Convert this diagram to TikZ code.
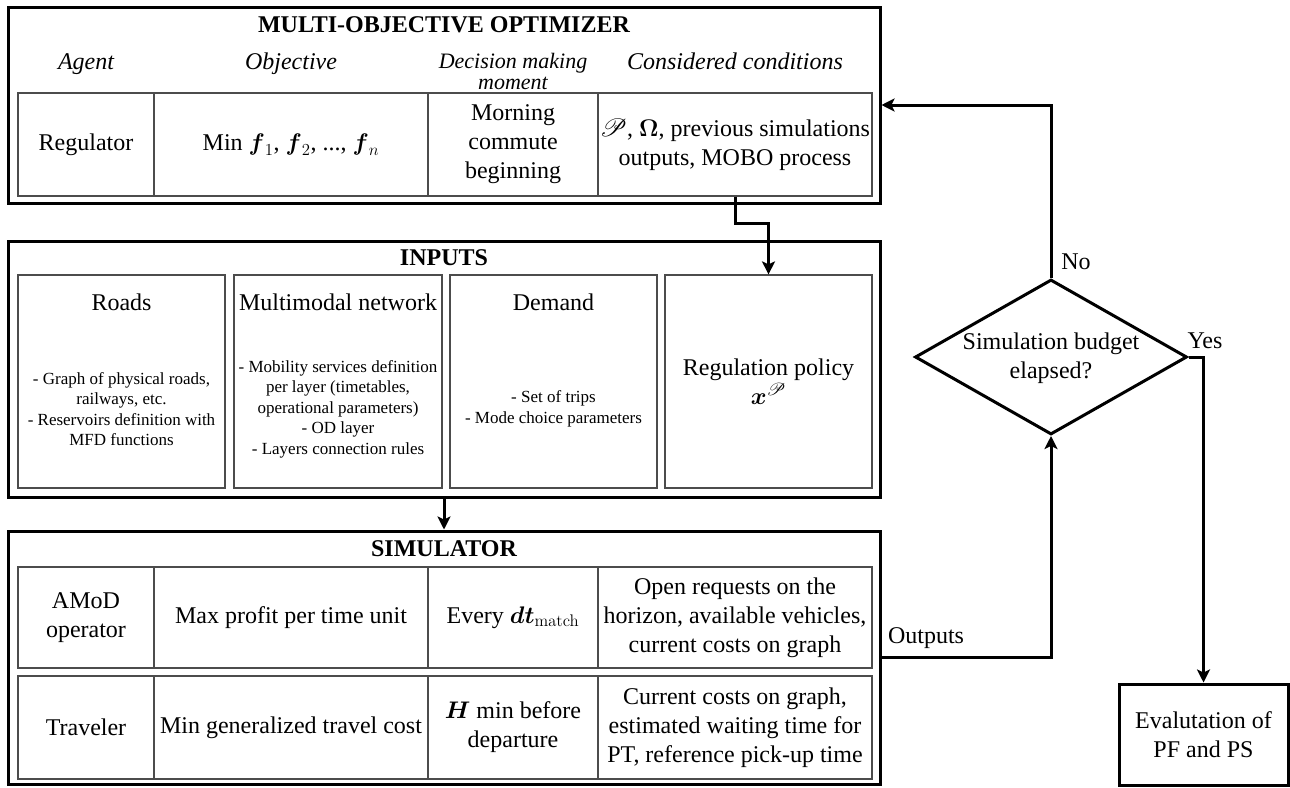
\IfFileExists{fix-cm.sty}{\RequirePackage{fix-cm}}{}
\documentclass[tikz,border=0pt]{standalone}
\usepackage{amsmath}
\usepackage{amsbsy}
\IfFileExists{mathrsfs.sty}{\usepackage{mathrsfs}}{\providecommand\mathscr{\mathcal}}
\usepackage[no-math]{fontspec}
\setmainfont{Liberation Serif}
\usetikzlibrary{arrows.meta,shapes.geometric,calc}
\begin{document}
\begin{tikzpicture}[x=1pt,y=-1pt,
  big/.style={font=\fontsize{24}{29}\selectfont},
  small/.style={font=\fontsize{17}{20.5}\selectfont},
  outer/.style={draw, line width=3pt, inner sep=0pt},
  cell/.style={draw=black!70, line width=1.2pt, inner sep=0pt, align=center, font=\fontsize{24}{29}\selectfont},
  arr/.style={line width=3pt, -{Stealth[length=13pt,width=13pt,inset=3pt]}},
  titletext/.style={font=\fontsize{24}{29}\selectfont\bfseries},
  head/.style={font=\fontsize{24}{29}\selectfont\itshape, align=center, text height=17pt, text depth=6pt},
]
\useasboundingbox (0,0) rectangle (1290,787);

% outer boxes
\node[outer, minimum width=872pt, minimum height=196pt] (moo) at (444,105) {};
\node[outer, minimum width=872pt, minimum height=256pt] (inp) at (444,369) {};
\node[outer, minimum width=872pt, minimum height=253pt] (sim) at (444,657.5) {};

% titles
\node[titletext] (mooT) at (444,25) {MULTI-OBJECTIVE OPTIMIZER};
\node[titletext] (inpT) at (444,258) {INPUTS};
\node[titletext] (simT) at (444,549) {SIMULATOR};

% headers
\node[head] (hAgent) at (86,64) {Agent};
\node[head] (hObj) at (291,64) {Objective};
\node[font=\fontsize{22}{21}\selectfont\itshape, align=center] (hDec) at (513,71) {Decision making\\moment};
\node[head] (hCond) at (735,64) {Considered conditions};

% optimizer row
\node[cell, minimum width=136pt, minimum height=103pt] (mAgent) at (86,144.5) {Regulator};
\node[cell, minimum width=274pt, minimum height=103pt] (mObj) at (291,144.5) {Min $\boldsymbol{f}_1$, $\boldsymbol{f}_2$, ..., $\boldsymbol{f}_n$};
\node[cell, minimum width=170pt, minimum height=103pt] (mDec) at (513,144.5) {Morning\\commute\\beginning};
\node[cell, minimum width=274pt, minimum height=103pt] (mcond) at (735,144.5) {$\mathscr{P}$, $\boldsymbol{\Omega}$, previous simulations\\outputs, MOBO process};

% inputs
\node[cell, minimum width=207pt, minimum height=213pt] (roads) at (121.5,381.5) {};
\node[cell, minimum width=208pt, minimum height=213pt] (multi) at (338,381.5) {};
\node[cell, minimum width=207pt, minimum height=213pt] (demand) at (553.5,381.5) {};
\node[cell, minimum width=207pt, minimum height=213pt] (reg) at (768.5,381.5) {Regulation policy\\$\boldsymbol{x}^{\mathscr{P}}$};

\node[big] (roadsT) at (121.5,302) {Roads};
\node[small, align=center] (roadsB) at (121.5,409) {- Graph of physical roads,\\railways, etc.\\- Reservoirs definition with\\MFD functions};
\node[big] (multiT) at (338,302) {Multimodal network};
\node[small, align=center] (multiB) at (338,409) {- Mobility services definition\\per layer (timetables,\\operational parameters)\\- OD layer\\- Layers connection rules};
\node[big] (demandT) at (553.5,302) {Demand};
\node[small, align=center] (demandB) at (553.5,409) {- Set of trips\\- Mode choice parameters};

% simulator rows
\node[cell, minimum width=136pt, minimum height=101pt] (aAgent) at (86,617.5) {AMoD\\operator};
\node[cell, minimum width=274pt, minimum height=101pt] (aObj) at (291,617.5) {Max profit per time unit};
\node[cell, minimum width=170pt, minimum height=101pt] (aDec) at (513,617.5) {Every $\boldsymbol{dt}_{\mathrm{match}}$};
\node[cell, minimum width=274pt, minimum height=101pt] (aCond) at (735,617.5) {Open requests on the\\horizon, available vehicles,\\current costs on graph};

\node[cell, minimum width=136pt, minimum height=103pt] (tAgent) at (86,727.5) {Traveler};
\node[cell, minimum width=274pt, minimum height=103pt] (tObj) at (291,727.5) {Min generalized travel cost};
\node[cell, minimum width=170pt, minimum height=103pt] (tDec) at (513,727.5) {$\boldsymbol{H}$ min before\\departure};
\node[cell, minimum width=274pt, minimum height=103pt] (tCond) at (735,727.5) {Current costs on graph,\\estimated waiting time for\\PT, reference pick-up time};

% decision
\node[draw, line width=3pt, shape=diamond, minimum width=272pt, minimum height=155pt, inner sep=0pt] (dia) at (1051,357) {};
\node[big, align=center] (diaT) at (1051,358) {Simulation budget\\elapsed?};

% evaluation
\node[outer, minimum width=169pt, minimum height=101pt, align=center, font=\fontsize{24}{29}\selectfont] (eval) at (1203.5,734.5) {Evalutation of\\PF and PS};

% connectors
\draw[arr] (mcond.south) -- ++(0,27) -| (reg.north);
\draw[arr] (inp.south) -- (sim.north);
\draw[arr] (sim.east) -| (dia.south);
\draw[arr] (dia.north) |- (moo.east);
\draw[arr] (dia.east) -| (eval.north);

% labels
\node[big] (outL) at (926,638) {Outputs};
\node[big] (noL) at (1076,262) {No};
\node[big] (yesL) at (1205,341) {Yes};
\end{tikzpicture}
\end{document}
